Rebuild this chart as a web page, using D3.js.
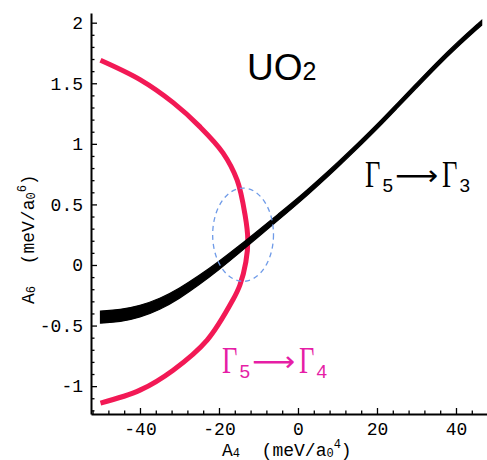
<!DOCTYPE html>
<html>
<head>
<meta charset="utf-8">
<script src="https://cdn.jsdelivr.net/npm/d3@7"></script>
<style>
  body { margin: 0; background: #fff; }
  svg { display: block; }
  .axis text { font-family: "Liberation Mono", "DejaVu Sans Mono", monospace; font-size: 18px; fill: #000; }
  .axis line, .axis path { stroke: #000; }
</style>
</head>
<body>
<svg width="487" height="460"></svg>
<script>
// tick labels
var xTicks = [-40, -20, 0, 20, 40];
var yTicks = [-1, -0.5, 0, 0.5, 1, 1.5, 2];

// Gamma5 -> Gamma3 line (black band, lower / upper edge)
var blackX  = [-50, -45, -40, -35, -30, -25, -20, -15, -10, -5, 0, 5, 10, 15, 20, 25, 30, 35, 40, 46.5];
var blackLo = [-0.48, -0.47, -0.433, -0.37, -0.277, -0.163, -0.039, 0.095, 0.233, 0.37, 0.507, 0.653, 0.804, 0.96, 1.12, 1.29, 1.46, 1.63, 1.79, 1.98];
var blackHi = [-0.38, -0.37, -0.337, -0.28, -0.193, -0.087, 0.029, 0.155, 0.287, 0.42, 0.553, 0.697, 0.846, 1.00, 1.16, 1.33, 1.50, 1.67, 1.83, 2.02];

// Gamma5 -> Gamma4 curve (red)
var redX = [-50, -40, -31.6, -24.8, -19, -15.4, -13.4, -12.7, -13.2, -14.7, -16.5, -23, -31.6, -40, -50];
var redY = [1.69, 1.53, 1.34, 1.14, 0.926, 0.70, 0.413, 0.207, 0.025, -0.165, -0.289, -0.62, -0.868, -1.033, -1.14];

// dashed ring round the crossing: centre x, centre y, half-width, half-height
var ring = [-13.9, 0.25, 7.7, 0.385];

var svg = d3.select("svg");

var x = d3.scaleLinear().domain([-52.4, 47.85]).range([91, 487]);
var y = d3.scaleLinear().domain([-1.23, 2.08]).range([414, 13]);

var fmt = function(d) { return String(d); };

// minor ticks
svg.append("g")
  .attr("class", "axis")
  .attr("transform", "translate(0,414)")
  .call(d3.axisBottom(x).tickValues(d3.range(-52, 48, 4).filter(function(d) { return d % 20 !== 0; }))
    .tickSize(-3.5).tickSizeOuter(0).tickFormat(""))
  .call(function(g) { g.select(".domain").remove(); });

svg.append("g")
  .attr("class", "axis")
  .attr("transform", "translate(91,0)")
  .call(d3.axisLeft(y).tickValues(d3.range(-12, 21).map(function(d) { return d / 10; }).filter(function(d) { return Math.round(d * 10) % 5 !== 0; }))
    .tickSize(-3.5).tickSizeOuter(0).tickFormat(""))
  .call(function(g) { g.select(".domain").remove(); });

// major ticks + domain
var gx = svg.append("g")
  .attr("class", "axis")
  .attr("transform", "translate(0,414)")
  .call(d3.axisBottom(x).tickValues(xTicks).tickSize(-6).tickSizeOuter(0).tickPadding(8).tickFormat(fmt));
gx.select(".domain").attr("stroke-width", 2);

var gy = svg.append("g")
  .attr("class", "axis")
  .attr("transform", "translate(91,0)")
  .call(d3.axisLeft(y).tickValues(yTicks).tickSize(-6).tickSizeOuter(0).tickPadding(8).tickFormat(fmt));
gy.select(".domain").attr("stroke-width", 2);
svg.selectAll(".axis .tick line").attr("stroke-width", 1.3);

// red curve
var redPts = redX.map(function(v, i) { return [v, redY[i]]; });
svg.append("path")
  .datum(redPts)
  .attr("fill", "none")
  .attr("stroke", "#f21955")
  .attr("stroke-width", 5)
  .attr("d", d3.line().x(function(d) { return x(d[0]); }).y(function(d) { return y(d[1]); })
    .curve(d3.curveCatmullRom.alpha(0.5)));

// black band
var blackPts = blackX.map(function(v, i) { return {x: v, lo: blackLo[i], hi: blackHi[i]}; });
svg.append("path")
  .datum(blackPts)
  .attr("fill", "#000")
  .attr("stroke", "#000")
  .attr("stroke-width", 1.2)
  .attr("d", d3.area().x(function(d) { return x(d.x); })
    .y0(function(d) { return y(d.lo); }).y1(function(d) { return y(d.hi); })
    .curve(d3.curveBasis));

// dashed ellipse
svg.append("ellipse")
  .attr("cx", x(ring[0]))
  .attr("cy", y(ring[1]))
  .attr("rx", x(ring[0] + ring[2]) - x(ring[0]))
  .attr("ry", y(ring[1] - ring[3]) - y(ring[1]))
  .attr("fill", "none")
  .attr("stroke", "#6f9be8")
  .attr("stroke-width", 1.3)
  .attr("stroke-dasharray", "5,4");

// axis titles
function axisTitle(sel, n) {
  sel.style("font-family", "'Liberation Mono', monospace").style("font-size", "18px");
  sel.append("tspan").text("A");
  sel.append("tspan").attr("dy", 1).style("font-size", "12px").text(n);
  sel.append("tspan").attr("dy", -1).text("\u00a0\u00a0(meV/a");
  sel.append("tspan").attr("dy", 1).style("font-size", "12px").text("0");
  sel.append("tspan").attr("dy", -9).style("font-size", "12px").text(n);
  sel.append("tspan").attr("dy", 8).text(")");
}
axisTitle(svg.append("text").attr("x", 222).attr("y", 455.5), "4");
axisTitle(svg.append("text").attr("transform", "translate(34,304) rotate(-90)"), "6");

// UO2
var uo = svg.append("text")
  .attr("x", 247).attr("y", 80)
  .style("font-family", "'Liberation Sans', Arial, sans-serif")
  .style("font-size", "37px");
uo.append("tspan").text("UO");
uo.append("tspan").style("font-size", "25px").text("2");

// transition labels
function gamma(g, gx0, base) {
  g.append("text")
    .attr("transform", "translate(" + gx0 + "," + base + ") scale(0.72,1)")
    .style("font-family", "'Liberation Serif', serif").style("font-size", "37px").text("\u0393");
}
function sub(g, sx, base, s) {
  g.append("text").attr("x", sx).attr("y", base + 5)
    .style("font-family", "'Liberation Sans', sans-serif").style("font-size", "19px").text(s);
}
function transition(x0, base, sub1, sub2, color) {
  var g = svg.append("g").attr("fill", color);
  gamma(g, x0, base);
  sub(g, x0 + 17.5, base, sub1);
  g.append("text").attr("x", x0 + 30).attr("y", base - 12)
    .attr("dominant-baseline", "central")
    .attr("textLength", 43).attr("lengthAdjust", "spacingAndGlyphs")
    .style("font-family", "'DejaVu Sans', sans-serif").style("font-size", "28px").text("\u27f6");
  gamma(g, x0 + 77, base);
  sub(g, x0 + 94.5, base, sub2);
}
transition(365, 187, "5", "3", "#000");
transition(222, 373, "5", "4", "#e61ea6");
</script>
</body>
</html>
